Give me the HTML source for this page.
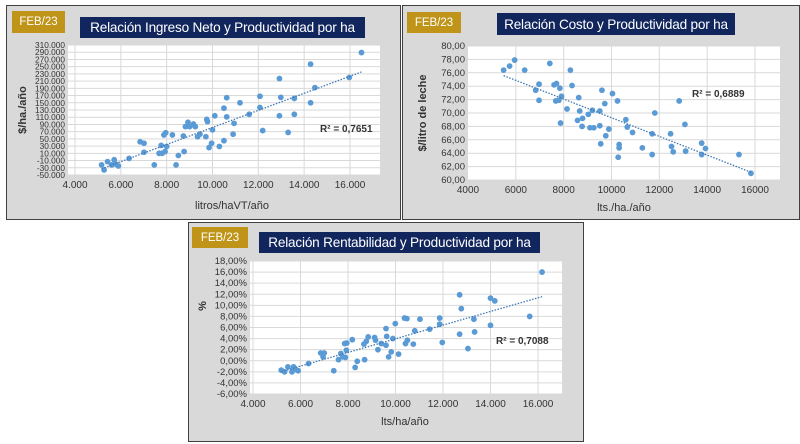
<!DOCTYPE html>
<html><head><meta charset="utf-8">
<style>
body{margin:0;width:800px;height:444px;background:#fff;position:relative;overflow:hidden;font-family:"Liberation Sans",sans-serif}
.panel{position:absolute;background:#d9d9d9;border:1.5px solid #404040;box-sizing:border-box}
.badge{position:absolute;background:#c09418;color:#fff;font-size:11.5px;display:flex;align-items:center;justify-content:center}
.title{position:absolute;background:#12265e;color:#fff;font-size:13.6px;letter-spacing:-0.2px;display:flex;align-items:center;justify-content:center;white-space:nowrap;overflow:hidden}
svg{position:absolute;left:0;top:0}
</style></head><body>
<div class="panel" style="left:6px;top:5px;width:395px;height:215px"></div>
<div class="panel" style="left:402px;top:5px;width:398px;height:215px"></div>
<div class="panel" style="left:188px;top:222px;width:396px;height:220px"></div>
<div class="badge" style="left:12px;top:11px;width:53px;height:22px">FEB/23</div>
<div class="title" style="left:80px;top:17px;width:285px;height:21px">Relación Ingreso Neto y Productividad por ha</div>
<div class="badge" style="left:407px;top:12px;width:54px;height:21px">FEB/23</div>
<div class="title" style="left:497px;top:13px;width:238px;height:22px">Relación Costo y Productividad por ha</div>
<div class="badge" style="left:192px;top:227px;width:56px;height:21px">FEB/23</div>
<div class="title" style="left:259px;top:232px;width:281px;height:21px">Relación Rentabilidad y Productividad por ha</div>
<svg id="svg" width="800" height="444"></svg>
<script>
const x1=[5.16,5.27,5.42,5.6,5.71,5.78,5.89,6.36,6.84,7.01,7.01,7.46,7.67,7.76,7.8,7.88,7.96,7.93,8.0,8.25,8.41,8.51,8.73,8.76,8.82,8.93,9.0,9.17,9.25,9.35,9.45,9.71,9.75,9.78,9.85,9.96,10.0,10.1,10.3,10.5,10.5,10.62,10.62,10.94,10.9,11.2,11.6,12.07,12.07,12.19,12.92,12.92,12.98,13.3,13.57,13.57,14.28,14.28,14.47,15.97,16.5];
const y1=[-22,-36,-13,-22,-8,-20,-25,-4,42,38,13,-22,10,32,10,61,67,15,29,61,-22,4,58,15,84,96,84,91,84,56,63,56,104,98,26,38,75,114,29,135,45,164,111,93,63,150,118,168,137,73,217,114,165,68,162,118,257,150,192,220,289];
const x2=[5.49,5.74,5.95,6.37,6.83,6.97,6.97,7.42,7.6,7.7,7.67,7.8,7.84,7.91,7.87,8.14,8.28,8.35,8.58,8.63,8.67,8.77,8.79,9.03,9.1,9.2,9.26,9.51,9.55,9.51,9.6,9.72,9.76,9.89,10.04,10.25,10.28,10.32,10.32,10.6,10.66,10.88,11.29,11.7,11.7,11.81,12.47,12.51,12.58,12.83,13.07,13.1,13.77,13.77,13.93,15.33,15.83];
const y2=[76.4,77.0,77.9,76.4,73.4,74.3,71.9,77.4,74.2,74.4,71.8,71.9,73.7,72.5,68.5,70.6,76.4,74.1,68.9,72.3,70.3,68.0,69.2,69.8,67.8,70.4,67.8,68.1,65.4,70.3,73.4,71.4,66.6,67.6,72.9,71.8,63.4,65.3,64.8,69.0,67.9,67.1,64.8,66.9,63.8,70.0,66.9,65.0,64.2,71.8,68.3,64.3,65.5,63.8,64.7,63.8,61.0];
const x3=[5.19,5.33,5.47,5.64,5.71,5.8,5.9,6.34,6.85,6.95,7.0,7.4,7.6,7.7,7.78,7.86,7.95,7.93,7.89,8.18,8.3,8.39,8.7,8.67,8.77,8.85,9.12,9.16,9.26,9.4,9.6,9.63,9.6,9.71,9.82,9.89,9.99,10.13,10.38,10.48,10.42,10.5,10.75,10.81,11.03,11.44,11.86,11.86,11.97,12.7,12.7,12.77,13.05,13.3,13.33,14.0,14.0,14.18,15.65,16.17];
const y3=[-1.7,-2.0,-1.1,-2.0,-1.1,-1.6,-1.8,-0.5,1.4,0.7,1.4,-1.8,0.2,1.3,0.7,3.1,3.2,1.9,0.6,3.8,-1.2,-0.1,0.2,3.0,3.5,4.3,4.2,3.7,2.0,3.1,5.8,4.4,2.8,0.7,1.6,4.0,6.7,1.2,7.7,7.6,3.1,3.7,3.0,5.4,7.5,5.7,7.7,6.6,3.3,11.9,4.8,9.4,2.2,7.5,5.2,6.4,11.3,10.8,8.0,16.0];
const yTicks1=[310,290,270,250,230,210,190,170,150,130,110,90,70,50,30,10,-10,-30,-50];
const yTicks2=[80,78,76,74,72,70,68,66,64,62,60];
const yTicks3=[18,16,14,12,10,8,6,4,2,0,-2,-4,-6];
const xTicks1=[4,6,8,10,12,14,16];
const xTicks2=[4,6,8,10,12,14,16];
const xTicks3=[4,6,8,10,12,14,16];
const r2Labels=["R² = 0,7651","R² = 0,6889","R² = 0,7088"];

const NS="http://www.w3.org/2000/svg", svg=document.getElementById('svg');
function mk(t,a,p){const e=document.createElementNS(NS,t);for(const k in a)e.setAttribute(k,a[k]);(p||svg).appendChild(e);return e;}
function fmtThou(v){const s=Math.abs(v*1000).toString().replace(/\B(?=(\d{3})+(?!\d))/g,'.');return (v<0?'-':'')+s;}
function chart(c){
  const g=mk('g',{});
  
  
  const sx=v=>c.xa[1]+(v-c.xa[0])*(c.xb[1]-c.xa[1])/(c.xb[0]-c.xa[0]);
  const sy=v=>c.ya[1]+(v-c.ya[0])*(c.yb[1]-c.ya[1])/(c.yb[0]-c.ya[0]);
  mk('rect',{x:c.px0,y:sy(c.yt[0]),width:c.px1-c.px0,height:sy(c.yt[c.yt.length-1])-sy(c.yt[0]),fill:'#fff'},g);
  c.yt.forEach(t=>{const y=sy(t);
    mk('line',{x1:c.px0,x2:c.px1,y1:y,y2:y,stroke:'#d9d9d9','stroke-width':1},g);
    const tx=mk('text',{x:c.px0-3,y:y+3,'text-anchor':'end','font-size':c.yfs,fill:'#333'},g);tx.textContent=c.yf(t);});
  c.xt.forEach(t=>{const x=sx(t);
    if(x>c.px0+2)mk('line',{x1:x,x2:x,y1:sy(c.yt[0]),y2:sy(c.yt[c.yt.length-1]),stroke:'#d9d9d9','stroke-width':1},g);
    const tx=mk('text',{x:x,y:sy(c.yt[c.yt.length-1])+13,'text-anchor':'middle','font-size':10,fill:'#333'},g);tx.textContent=c.xf(t);});
  const n=c.x.length;let mx=0,my=0;c.x.forEach((v,i)=>{mx+=v;my+=c.y[i];});mx/=n;my/=n;
  let sxy=0,sxx=0;c.x.forEach((v,i)=>{sxy+=(v-mx)*(c.y[i]-my);sxx+=(v-mx)*(v-mx);});
  const b=sxy/sxx,a=my-b*mx,xmn=Math.min(...c.x),xmx=Math.max(...c.x);
  c.x.forEach((v,i)=>{const d=mk('circle',{cx:sx(v),cy:sy(c.y[i]),r:2.9,fill:'#5b9bd5'},g);
    
    });
  const tl=mk('line',{x1:sx(xmn),y1:sy(a+b*xmn),x2:sx(xmx),y2:sy(a+b*xmx),stroke:'#3f78b5','stroke-width':1.3,'stroke-dasharray':'1.5 1.5'},g);
  
  
  const r=mk('text',{x:c.r2[0],y:c.r2[1],'font-size':10,'font-weight':'bold',fill:'#333'},g);r.textContent=c.r2t;
  
  
  const xl=mk('text',{x:c.xl[0],y:c.xl[1],'text-anchor':'middle','font-size':11,fill:'#333'},g);xl.textContent=c.xlt;
  
  
  const yl=mk('text',{x:0,y:0,'text-anchor':'middle','font-size':11,'font-weight':'bold',fill:'#333',transform:`translate(${c.yl[0]},${c.yl[1]}) rotate(-90)`},g);yl.textContent=c.ylt;
  
  
}
chart({name:'chart-ingreso',x:x1,y:y1,xt:xTicks1,yt:yTicks1,xa:[4,75],xb:[16,350],ya:[310,45],yb:[-50,175],px0:68,px1:380,yfs:8.3,
  yf:fmtThou,xf:fmtThou,r2:[320,132],r2t:r2Labels[0],xl:[232,209],xlt:'litros/haVT/año',yl:[26,110],ylt:'$/ha./año'});
chart({name:'chart-costo',x:x2,y:y2,xt:xTicks2,yt:yTicks2,xa:[4,468],xb:[16,755],ya:[80,46],yb:[60,180],px0:468,px1:780,yfs:9.5,
  yf:v=>v.toFixed(2).replace('.',','),xf:v=>String(v*1000),r2:[692,97],r2t:r2Labels[1],xl:[624,211],xlt:'lts./ha./año',yl:[426,113],ylt:'$/litro de leche'});
chart({name:'chart-rentabilidad',x:x3,y:y3,xt:xTicks3,yt:yTicks3,xa:[4,253],xb:[16,538],ya:[18,261],yb:[-6,394],px0:250,px1:562,yfs:9.5,
  yf:v=>v.toFixed(2).replace('.',',')+'%',xf:fmtThou,r2:[496,344],r2t:r2Labels[2],xl:[405,425],xlt:'lts/ha/año',yl:[206,306],ylt:'%'});
</script>
</body></html>
